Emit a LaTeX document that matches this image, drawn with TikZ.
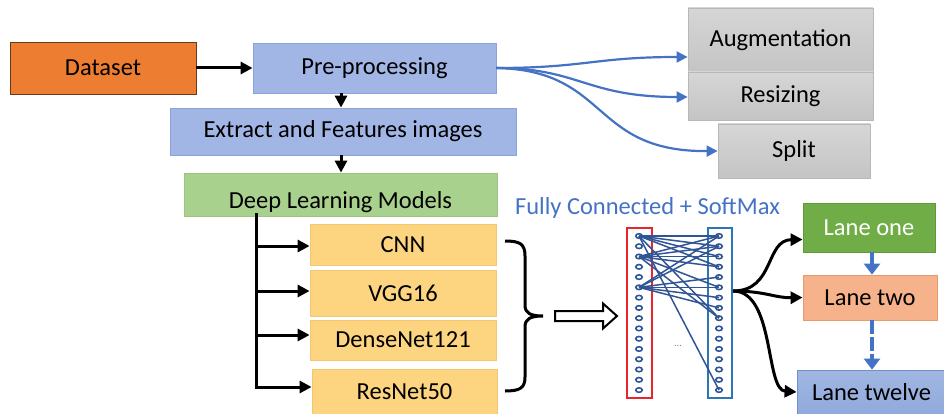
\documentclass[tikz,border=0pt]{standalone}
\usepackage{fontspec}
\setmainfont{Carlito}
\usetikzlibrary{arrows.meta,calc,shapes.geometric}
\definecolor{dsOrange}{HTML}{ED7D31}
\definecolor{dsOrangeB}{HTML}{6B3A1C}
\definecolor{ppBlue}{HTML}{A2B6E5}
\definecolor{ppBlueB}{HTML}{8AA3DA}
\definecolor{dlGreen}{HTML}{A9D18E}
\definecolor{dlGreenB}{HTML}{9CC582}
\definecolor{mdYellow}{HTML}{FDD581}
\definecolor{mdYellowB}{HTML}{F4C66F}
\definecolor{lnGreen}{HTML}{70AD47}
\definecolor{lnGreenB}{HTML}{5E9A3A}
\definecolor{lnSalmon}{HTML}{F6B28B}
\definecolor{lnSalmonB}{HTML}{E89A6E}
\definecolor{lnBlue}{HTML}{90AADC}
\definecolor{lnBlueB}{HTML}{7090CC}
\definecolor{arBlue}{HTML}{4472C4}
\definecolor{nnBlue}{HTML}{2F5597}
\definecolor{nnRed}{HTML}{E8252A}
\definecolor{nnFrame}{HTML}{2E75B6}
\definecolor{grTop}{HTML}{D6D6D6}
\definecolor{grBot}{HTML}{C4C4C4}
\definecolor{grBd}{HTML}{B8B8B8}
\begin{document}
\begin{tikzpicture}[x=1pt,y=-1pt,
  box/.style={draw, line width=0.8pt, inner sep=0pt, align=center,
    font=\fontsize{24.5}{28}\selectfont},
  graybox/.style={box, draw=grBd, top color=grTop, bottom color=grBot},
  modelbox/.style={box, fill=mdYellow, draw=mdYellowB, minimum width=186pt},
  blkarrow/.style={line width=3pt, -{Triangle[length=12pt,width=12pt]}},
  bluearrow/.style={arBlue, line width=2.2pt, -{Triangle[length=11pt,width=11pt]}},
  lanearrow/.style={arBlue, line width=4.5pt, -{Triangle[length=11pt,width=16pt]}},
  neuron/.style={draw=nnBlue, line width=1.6pt, ellipse, inner sep=0pt, minimum width=6.5pt, minimum height=4.5pt},
  nnlink/.style={nnBlue, line width=1.5pt}
]
\useasboundingbox (0,0) rectangle (944,414);

% top row
\node[box, fill=dsOrange, draw=dsOrangeB, minimum width=186pt, minimum height=52pt] (ds) at (103,68) {Dataset};
\node[box, fill=ppBlue, draw=ppBlueB, minimum width=243pt, minimum height=50pt] (pp) at (374.5,68) {Pre-processing};
\node[box, fill=ppBlue, draw=ppBlueB, minimum width=346pt, minimum height=47pt] (ex) at (343,131.5) {Extract and Features images};
\node[box, fill=dlGreen, draw=dlGreenB, minimum width=313pt, minimum height=43pt] (dl) at (340.5,194.5) {\smash{\raisebox{-14pt}{Deep Learning Models}}};

\node[graybox, minimum width=185pt, minimum height=64pt] (aug) at (780.5,40) {Augmentation};
\node[graybox, minimum width=185pt, minimum height=48pt] (rs) at (780.5,96) {Resizing};
\node[graybox, minimum width=152pt, minimum height=54pt] (sp) at (794,151) {Split};

\draw[blkarrow] (ds.east) -- (pp.west);
\draw[blkarrow] (pp.south -| 341,0) -- (ex.north -| 341,0);
\draw[blkarrow] (ex.south -| 341,0) -- (dl.north -| 341,0);

\coordinate (ppout) at (496,68);
\draw[bluearrow] (ppout) .. controls (585,68) and (595,57) .. (aug.west |- 0,57);
\draw[bluearrow] (ppout) .. controls (580,68) and (585,97) .. (rs.west |- 0,97);
\draw[bluearrow] (ppout) .. controls (610,70) and (590,152) .. (sp.west);

% models
\node[modelbox, minimum height=41pt] (cnn) at (403,244.5) {CNN};
\node[modelbox, minimum height=46pt] (vgg) at (403,293) {VGG16};
\node[modelbox, minimum height=40pt] (dn) at (403,340) {DenseNet121};
\node[modelbox, minimum width=185pt, minimum height=46pt] (rn) at (404.5,392) {ResNet50};

\coordinate (trunk) at (256,213);
\draw[line width=3pt] (trunk) -- (256,388.5);
\draw[blkarrow] (254.5,387) -- ([yshift=5pt]rn.west);
\draw[blkarrow] ([yshift=-1.5pt]trunk |- cnn.west) -- ([yshift=-1.5pt]cnn.west);
\draw[blkarrow] ([yshift=2pt]trunk |- vgg.west) -- ([yshift=2pt]vgg.west);
\draw[blkarrow] ([yshift=5pt]trunk |- dn.west) -- ([yshift=5pt]dn.west);

% brace
\coordinate (brtip) at (543,316);
\draw[line width=3pt] (505,241) .. controls (520,241) and (525,244) .. (525,256) -- (525,305)
  .. controls (525,313) and (530,316) .. (brtip)
  .. controls (530,316) and (525,319) .. (525,327) -- (525,377)
  .. controls (525,388) and (520,391) .. (505,391);

% hollow arrow
\draw[line width=2pt, fill=white] (555,311) -- (603,311) -- (603,303.5) -- (617,316) -- (603,328.5) -- (603,321) -- (555,321) -- cycle;

% fully connected
\node[text=arBlue, font=\fontsize{24.5}{28}\selectfont, inner sep=0pt] (fc) at (647.5,208) {Fully Connected + SoftMax};
\draw[nnRed, line width=2pt] (627,228) rectangle (652,398);
\draw[nnFrame, line width=2pt] (708,228) rectangle (732,398);
\foreach \a/\b in {1/1,1/2,1/3,1/4,1/9,1/16,3/1,3/2,3/3,3/4,3/6,3/9,6/1,6/2,6/5,6/6,6/7,6/8}
  \draw[nnlink] (639,{236+(\a-1)*10.27}) -- (719,{236+(\b-1)*10.27});
\foreach \i in {1,...,16} {
  \node[neuron] (L\i) at (639,{236+(\i-1)*10.27}) {};
  \node[neuron] (R\i) at (719,{236+(\i-1)*10.27}) {};
}
\node[text=gray, font=\fontsize{10}{10}\selectfont, inner sep=0pt] (dots) at (678,346) {...};

% lanes
\node[box, fill=lnGreen, draw=lnGreenB, text=white, minimum width=132pt, minimum height=49pt] (l1) at (869,227.5) {Lane one};
\node[box, fill=lnSalmon, draw=lnSalmonB, minimum width=134pt, minimum height=45pt] (l2) at (870,297.5) {Lane two};
\node[box, draw=lnBlueB, top color=lnBlue!85, bottom color=lnBlue, minimum width=149pt, minimum height=44pt] (l12) at (871.5,392) {Lane twelve};

\draw[lanearrow] (l1.south -| 872,0) -- (l2.north -| 872,0);
\draw[lanearrow, dash pattern=on 14pt off 3pt] (l2.south -| 872,0) -- (l12.north -| 872,0);

\coordinate (fcout) at (733,291);
\draw[blkarrow] (fcout) .. controls (775,291) and (765,240) .. ([yshift=-12pt]l1.west);
\draw[blkarrow] (fcout) .. controls (765,291) and (775,298) .. (l2.west);
\draw[blkarrow] (fcout) .. controls (775,291) and (765,390) .. (l12.west);
\end{tikzpicture}
\end{document}
